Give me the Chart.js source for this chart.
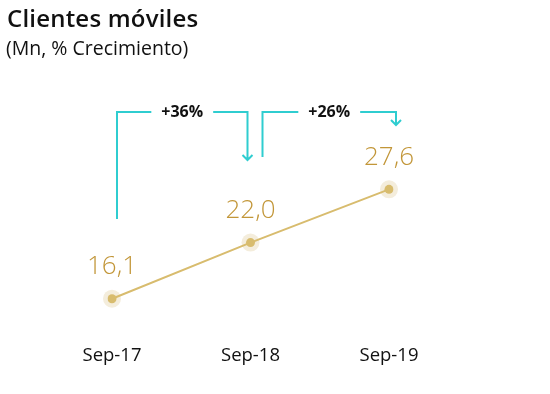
<!DOCTYPE html>
<html><head><meta charset="utf-8">
<script src="https://cdn.jsdelivr.net/npm/chart.js@4"></script>
<style>
html,body{margin:0;padding:0;background:#fff;}
#wrap{position:relative;width:550px;height:394px;}
#c{position:absolute;left:0;top:0;}
.t{position:absolute;left:7px;top:1px;font:600 24px "Open Sans",sans-serif;color:#111;letter-spacing:0.2px;}
.s{position:absolute;left:6px;top:34px;font:400 19.5px "Open Sans",sans-serif;color:#111;}
</style></head>
<body><div id="wrap">
<canvas id="c" width="550" height="394"></canvas>
<div class="t">Clientes móviles</div>
<div class="s">(Mn, % Crecimiento)</div>
</div>
<script>
const categories = ["Sep-17", "Sep-18", "Sep-19"];
const clientes = [16.1, 22.0, 27.6];
const growthLabels = ["+36%", "+26%"];

const GOLD_TEXT = '#C29638';
const GOLD_LINE = '#D8BC6E';
const HALO = '#F4EDDC';
const CYAN = '#2FCDD0';

const valueLabels = {
  id: 'valueLabels',
  afterDatasetsDraw(chart) {
    const ctx = chart.ctx;
    const meta = chart.getDatasetMeta(0);
    ctx.save();
    ctx.font = '300 26px "Open Sans", sans-serif';
    ctx.fillStyle = GOLD_TEXT;
    ctx.textAlign = 'center';
    ctx.textBaseline = 'middle';
    meta.data.forEach((p, i) => {
      ctx.fillText(clientes[i].toFixed(1).replace('.', ','), p.x, p.y - 32);
    });
    ctx.restore();
  }
};

const brackets = {
  id: 'brackets',
  afterDraw(chart) {
    const ctx = chart.ctx;
    const x = chart.scales.x;
    const defs = [
      {x1: x.getPixelForValue(0) + 5, y1: 219, x2: x.getPixelForValue(1) - 3, y2: 160, label: growthLabels[0]},
      {x1: x.getPixelForValue(1) + 12, y1: 157, x2: x.getPixelForValue(2) + 7, y2: 125, label: growthLabels[1]}
    ];
    const top = 112;
    ctx.save();
    ctx.strokeStyle = CYAN;
    ctx.lineWidth = 2;
    ctx.font = '700 16px "Open Sans", sans-serif';
    ctx.textAlign = 'center';
    ctx.textBaseline = 'middle';
    defs.forEach(d => {
      const cx = (d.x1 + d.x2) / 2;
      const half = ctx.measureText(d.label).width / 2 + 10;
      ctx.beginPath();
      ctx.moveTo(d.x1, d.y1);
      ctx.lineTo(d.x1, top);
      ctx.lineTo(cx - half, top);
      ctx.moveTo(cx + half, top);
      ctx.lineTo(d.x2, top);
      ctx.lineTo(d.x2, d.y2);
      ctx.moveTo(d.x2 - 5, d.y2 - 5);
      ctx.lineTo(d.x2, d.y2);
      ctx.lineTo(d.x2 + 5, d.y2 - 5);
      ctx.stroke();
      ctx.fillStyle = '#111';
      ctx.fillText(d.label, cx, top);
    });
    ctx.restore();
  }
};

new Chart(document.getElementById('c'), {
  type: 'line',
  data: {
    labels: categories,
    datasets: [
      {data: clientes, borderColor: GOLD_LINE, borderWidth: 2, pointRadius: 4.5,
       pointBackgroundColor: GOLD_LINE, pointBorderWidth: 0, order: 1},
      {data: clientes, showLine: false, pointRadius: 9, pointBackgroundColor: HALO,
       pointBorderWidth: 0, order: 2}
    ]
  },
  options: {
    responsive: false,
    animation: false,
    layout: {padding: {left: 112, right: 161, top: 100, bottom: 3}},
    plugins: {legend: {display: false}, tooltip: {enabled: false}},
    scales: {
      x: {
        offset: false,
        grid: {display: false, drawTicks: false},
        border: {display: false},
        ticks: {color: '#111', padding: 24, font: {family: '"Open Sans", sans-serif', size: 18.5}, maxRotation: 0}
      },
      y: {display: false, min: 13.78, max: 36.99}
    }
  },
  plugins: [valueLabels, brackets]
});
</script>
</body></html>
